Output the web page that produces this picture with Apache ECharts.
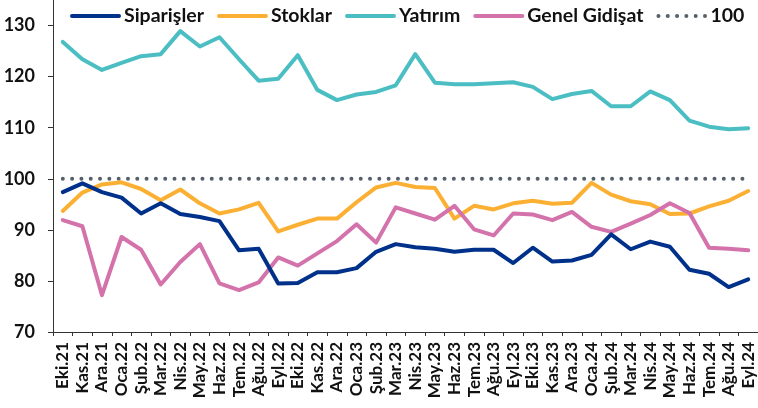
<!DOCTYPE html>
<html><head><meta charset="utf-8">
<script src="https://cdn.jsdelivr.net/npm/echarts@6/dist/echarts.min.js"></script>
<style>html,body{margin:0;padding:0;background:#fff}#c{width:758px;height:408px}</style>
</head><body><div id="c"></div>
<script>
const categories = ['Eki.21','Kas.21','Ara.21','Oca.22','Şub.22','Mar.22','Nis.22','May.22','Haz.22','Tem.22','Ağu.22','Eyl.22','Eki.22','Kas.22','Ara.22','Oca.23','Şub.23','Mar.23','Nis.23','May.23','Haz.23','Tem.23','Ağu.23','Eyl.23','Eki.23','Kas.23','Ara.23','Oca.24','Şub.24','Mar.24','Nis.24','May.24','Haz.24','Tem.24','Ağu.24','Eyl.24'];
const siparisler = [97.4, 99.1, 97.4, 96.3, 93.2, 95.2, 93.1, 92.5, 91.7, 86.0, 86.3, 79.5, 79.6, 81.7, 81.7, 82.5, 85.7, 87.2, 86.6, 86.3, 85.7, 86.1, 86.1, 83.5, 86.5, 83.8, 84.0, 85.1, 89.1, 86.2, 87.7, 86.7, 82.2, 81.4, 78.8, 80.3];
const stoklar = [93.7, 97.3, 98.9, 99.3, 98.0, 95.8, 97.9, 95.2, 93.2, 94.0, 95.3, 89.7, 91.0, 92.2, 92.2, 95.4, 98.3, 99.2, 98.4, 98.2, 92.2, 94.7, 94.0, 95.2, 95.7, 95.1, 95.3, 99.2, 96.9, 95.6, 95.0, 93.1, 93.2, 94.6, 95.7, 97.6];
const yatirim = [126.8, 123.4, 121.3, 122.7, 124.0, 124.4, 128.9, 125.9, 127.7, 123.4, 119.2, 119.6, 124.2, 117.4, 115.4, 116.5, 117.0, 118.3, 124.4, 118.8, 118.5, 118.5, 118.7, 118.9, 118.0, 115.6, 116.6, 117.2, 114.2, 114.2, 117.1, 115.4, 111.4, 110.2, 109.7, 109.9];
const genelGidisat = [91.9, 90.7, 77.2, 88.6, 86.1, 79.3, 83.7, 87.2, 79.5, 78.2, 79.7, 84.6, 83.0, 85.4, 87.8, 91.1, 87.5, 94.4, 93.2, 92.0, 94.7, 90.1, 88.9, 93.2, 93.0, 91.9, 93.5, 90.6, 89.6, 91.2, 92.9, 95.2, 93.3, 86.5, 86.3, 86.0];
const referans100 = [100,100,100,100,100,100,100,100,100,100,100,100,100,100,100,100,100,100,100,100,100,100,100,100,100,100,100,100,100,100,100,100,100,100,100,100];
const yTicks = [70, 80, 90, 100, 110, 120, 130];

const FONT = 'Lato';
const chart = echarts.init(document.getElementById('c'), null, {renderer: 'canvas'});
function line(name, data, color, extra) {
  return Object.assign({
    name, type: 'line', data, symbol: 'none', showSymbol: false,
    lineStyle: {color, width: 4, cap: 'round', join: 'round'},
    itemStyle: {color}, animation: false
  }, extra || {});
}
chart.setOption({
  animation: false,
  textStyle: {fontFamily: FONT},
  grid: {left: 53, top: 0, width: 707, height: 332, containLabel: false},
  legend: {
    left: 70, top: 6, width: 688, padding: 0, itemGap: 13, itemWidth: 47, itemHeight: 16,
    itemStyle: {opacity: 0},
    lineStyle: {width: 4, cap: 'round'},
    textStyle: {fontFamily: FONT, fontSize: 19.5, fontWeight: 'bold', color: '#111'},
    data: ['Siparişler', 'Stoklar', 'Yatırım', 'Genel Gidişat', '100']
  },
  xAxis: {
    type: 'category', data: categories, boundaryGap: true,
    axisLine: {lineStyle: {color: '#333', width: 1}},
    axisTick: {show: true, length: 4, interval: 0, lineStyle: {color: '#333'}},
    axisLabel: {interval: 0, rotate: 90, margin: 10, fontFamily: FONT, fontSize: 17, fontWeight: 'bold', color: '#111'}
  },
  yAxis: {
    type: 'value', min: yTicks[0], max: 135, interval: 10,
    splitLine: {show: false},
    axisLine: {show: true, lineStyle: {color: '#333', width: 1}},
    axisTick: {show: true, length: 5, lineStyle: {color: '#333'}},
    axisLabel: {showMaxLabel: false, margin: 18, fontFamily: FONT, fontSize: 18, fontWeight: 'bold', color: '#111'}
  },
  series: [
    line('Stoklar', stoklar, '#FBB034'),
    line('Yatırım', yatirim, '#4BBEC4'),
    line('Genel Gidişat', genelGidisat, '#D372AB'),
    line('Siparişler', siparisler, '#00318A'),
    line('100', referans100, '#55606B', {lineStyle: {color: '#55606B', width: 4, type: [0.01, 9.3], cap: 'round'}, z: 1})
  ]
});
</script></body></html>
